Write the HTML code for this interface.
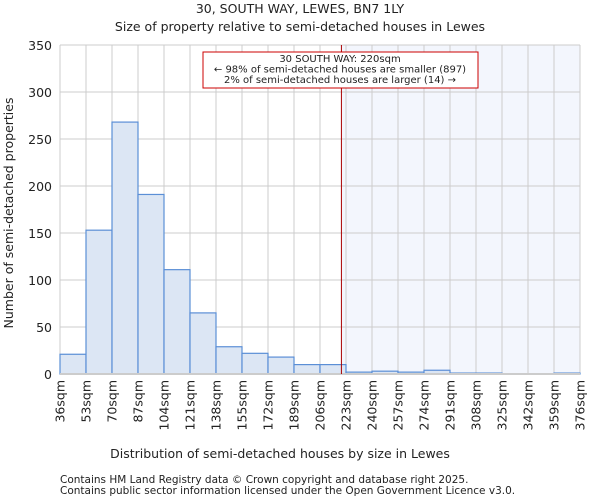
<!DOCTYPE html>
<html><head><meta charset="utf-8"><style>
body{margin:0;background:#fff;font-family:"DejaVu Sans","Liberation Sans",sans-serif;}
svg text{fill:#222;}
</style></head><body>
<svg width="600" height="500" xmlns="http://www.w3.org/2000/svg">
<text x="300" y="13" text-anchor="middle" font-size="12.5">30, SOUTH WAY, LEWES, BN7 1LY</text>
<text x="300" y="31" text-anchor="middle" font-size="12.5">Size of property relative to semi-detached houses in Lewes</text>
<g id="plot"></g>
<text x="280" y="458" text-anchor="middle" font-size="12.5">Distribution of semi-detached houses by size in Lewes</text>
<text transform="translate(13,213) rotate(-90)" text-anchor="middle" font-size="12.5">Number of semi-detached properties</text>
<text x="60" y="483" font-size="10.5" fill="#444">Contains HM Land Registry data © Crown copyright and database right 2025.</text>
<text x="60" y="494" font-size="10.5" fill="#444">Contains public sector information licensed under the Open Government Licence v3.0.</text>
</svg>
<script>
const binEdges=[36,53,70,87,104,121,138,155,172,189,206,223,240,257,274,291,308,325,342,359,376];
const counts=[21,153,268,191,111,65,29,22,18,10,10,2,3,2,4,1,1,0,0,1];
const yTicks=[0,50,100,150,200,250,300,350];
const propertySize=220;
const L=60,R=580,T=45,B=374;
const NS="http://www.w3.org/2000/svg";
const g=document.getElementById('plot');
const x=v=>L+(v-binEdges[0])/(binEdges[binEdges.length-1]-binEdges[0])*(R-L);
const y=v=>B-v/350*(B-T);
function mk(t,a){const e=document.createElementNS(NS,t);for(const k in a)e.setAttribute(k,a[k]);g.appendChild(e);return e;}
const px=x(propertySize);
const hl=mk('rect',{x:px,y:T,width:R-px,height:B-T,fill:'#f3f6fd'});


yTicks.forEach(t=>{
 const l=mk('line',{x1:L,x2:R,y1:y(t),y2:y(t),stroke:'#ccc'});
 
 
 const tx=mk('text',{x:L-8,y:y(t)+5,'text-anchor':'end','font-size':12.5});
 tx.textContent=t;
 
 
});
binEdges.forEach(b=>{
 const l=mk('line',{x1:x(b),x2:x(b),y1:T,y2:B,stroke:'#ccc'});
 
 
 const tx=mk('text',{transform:`translate(${x(b)+4.5},${B+6}) rotate(-90)`,'text-anchor':'end','font-size':12.5});
 tx.textContent=b+'sqm';
 
 
});
counts.forEach((c,i)=>{
 const x0=x(binEdges[i]),x1=x(binEdges[i+1]);
 const r=mk('rect',{x:x0,y:y(c),width:x1-x0,height:B-y(c),fill:'#dce6f4',stroke:'#5b8fd6','stroke-width':1.2});
 
 
});
const ax=mk('line',{x1:L,x2:R,y1:B,y2:B,stroke:'#ccc','stroke-width':2});


const ml=mk('line',{x1:px,x2:px,y1:T,y2:B,stroke:'#a00','stroke-width':1});


const box=mk('rect',{x:203,y:52,width:275,height:36,fill:'#fff',stroke:'#c00'});


['30 SOUTH WAY: 220sqm','← 98% of semi-detached houses are smaller (897)','2% of semi-detached houses are larger (14) →'].forEach((s,i)=>{
 const t=mk('text',{x:340,y:62+i*10.5,'text-anchor':'middle','font-size':10});
 t.textContent=s;
 
 
});
</script>
</body></html>
